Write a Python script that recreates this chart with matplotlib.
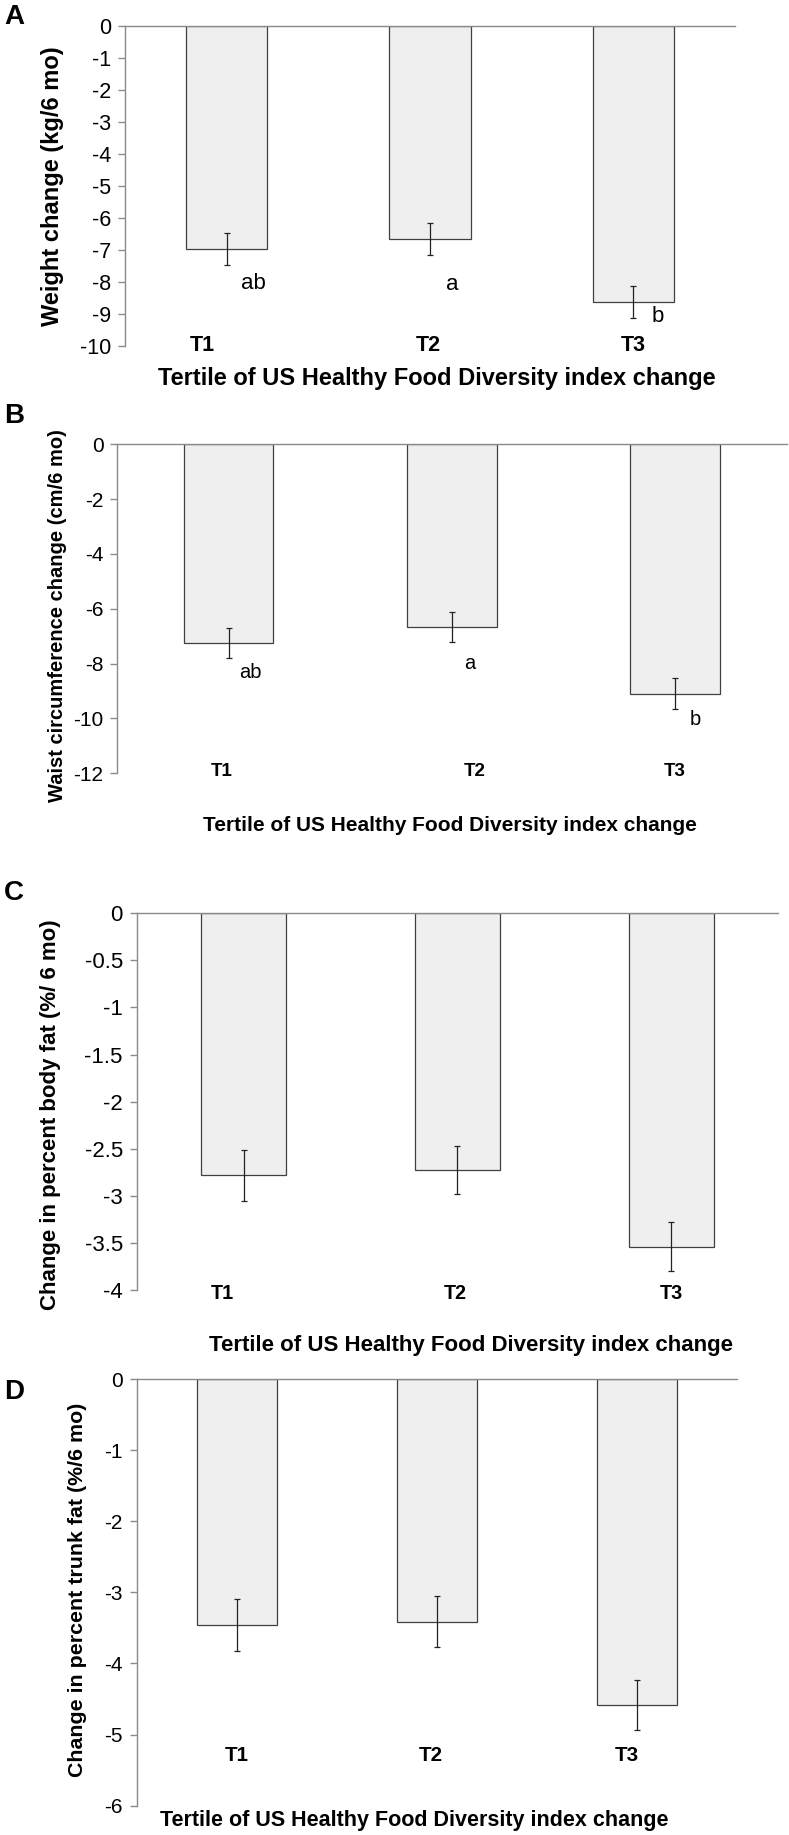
import matplotlib
matplotlib.use('Agg')
import matplotlib.pyplot as plt
from matplotlib.ticker import FuncFormatter
import numpy as np

plt.rcParams['font.family'] = ['Liberation Sans', 'DejaVu Sans']
plt.rcParams['axes.unicode_minus'] = False

# data
tertiles = ['T1', 'T2', 'T3']
xlabel = 'Tertile of US Healthy Food Diversity index change'

weight_mean = [-6.98, -6.68, -8.63]
weight_se = [0.51, 0.50, 0.50]
weight_letters = ['ab', 'a', 'b']

waist_mean = [-7.25, -6.65, -9.09]
waist_se = [0.56, 0.55, 0.55]
waist_letters = ['ab', 'a', 'b']

bodyfat_mean = [-2.78, -2.73, -3.54]
bodyfat_se = [0.27, 0.255, 0.26]

trunk_mean = [-3.46, -3.41, -4.58]
trunk_se = [0.37, 0.36, 0.35]

W, H = 789, 1835
fig = plt.figure(figsize=(W / 100, H / 100), dpi=100)

AXIS_COL = '#8a8a8a'
BAR_FILL = '#efefef'
BAR_EDGE = '#404040'


def px_axes(left, right, top, bottom):
    ''' axes rect from pixel edges '''
    return fig.add_axes([left / W, 1 - bottom / H, (right - left) / W, (bottom - top) / H])


def panel(ax, mean, se, ymin, ystep, tick_fs, tlab_fs, tlab_pos, letters=None,
          letter_pos=None, letter_fs=15):
    x = np.arange(len(mean))
    ax.bar(x, mean, width=0.4, color=BAR_FILL, edgecolor=BAR_EDGE, linewidth=0.9, zorder=2)
    ax.errorbar(x, mean, yerr=se, fmt='none', ecolor='#222222', elinewidth=0.9,
                capsize=2.5, capthick=0.9, zorder=3)
    ax.set_xlim(-0.5, 2.5)
    ax.set_ylim(ymin, 0)
    ax.set_yticks(np.arange(0, ymin - ystep / 2, -ystep))
    ax.yaxis.set_major_formatter(FuncFormatter(lambda v, p: '%g' % v))
    ax.set_xticks([])
    for s in ['right', 'bottom']:
        ax.spines[s].set_visible(False)
    for s in ['left', 'top']:
        ax.spines[s].set_color(AXIS_COL)
        ax.spines[s].set_linewidth(1.0)
    ax.tick_params(axis='y', direction='out', length=5, width=1.0, color=AXIS_COL,
                   labelsize=tick_fs, pad=5)
    for lab, (tx, ty) in zip(tertiles, tlab_pos):
        ax.text(tx, ty, lab, ha='center', va='center', fontsize=tlab_fs,
                fontweight='bold', clip_on=False)
    if letters:
        for lab, (lx, ly) in zip(letters, letter_pos):
            ax.text(lx, ly, lab, ha='center', va='center', fontsize=letter_fs)
    ax.patch.set_alpha(0)


def fig_text(x, y, s, **kw):
    fig.text(x / W, 1 - y / H, s, ha='center', va='center', **kw)


# A
axA = px_axes(125, 735, 25.7, 345.7)
panel(axA, weight_mean, weight_se, -10, 1, 15.5, 15.5,
      [(-0.12, -10), (0.99, -10), (2.0, -10)], weight_letters,
      [(0.13, -8.05), (1.11, -8.1), (2.12, -9.1)], letter_fs=16)
fig_text(437, 378, xlabel, fontsize=17, fontweight='bold')
fig_text(53, 186, 'Weight change (kg/6 mo)', fontsize=17, fontweight='bold', rotation=90)
fig_text(14, 17, 'A', fontsize=20, fontweight='bold')

# B
axB = px_axes(117.3, 786.5, 444.3, 773.3)
panel(axB, waist_mean, waist_se, -12, 2, 15, 13.5,
      [(-0.03, -11.95), (1.10, -11.95), (2.0, -11.95)], waist_letters,
      [(0.095, -8.32), (1.08, -7.99), (2.09, -10.03)], letter_fs=14.5)
fig_text(450, 825, xlabel, fontsize=15, fontweight='bold')
fig_text(58, 616, 'Waist circumference change (cm/6 mo)', fontsize=14.5,
         fontweight='bold', rotation=90)
fig_text(14, 416, 'B', fontsize=20, fontweight='bold')

# C
axC = px_axes(136.7, 778.3, 913.3, 1290)
panel(axC, bodyfat_mean, bodyfat_se, -4, 0.5, 16, 14.2,
      [(-0.1, -4.04), (0.99, -4.04), (2.0, -4.04)])
fig_text(471, 1345, xlabel, fontsize=16, fontweight='bold')
fig_text(51, 1115, 'Change in percent body fat (%/ 6 mo)', fontsize=16,
         fontweight='bold', rotation=90)
fig_text(14, 893, 'C', fontsize=20, fontweight='bold')

# D
axD = px_axes(136.7, 737.3, 1379, 1805.7)
panel(axD, trunk_mean, trunk_se, -6, 1, 15, 14.8,
      [(0.0, -5.3), (0.97, -5.3), (1.95, -5.3)])
fig_text(414.5, 1820, xlabel, fontsize=15.5, fontweight='bold')
fig_text(78, 1590, 'Change in percent trunk fat (%/6 mo)', fontsize=15.4,
         fontweight='bold', rotation=90)
fig_text(14, 1392, 'D', fontsize=20, fontweight='bold')

fig.savefig('out.png', dpi=100, facecolor='white')
